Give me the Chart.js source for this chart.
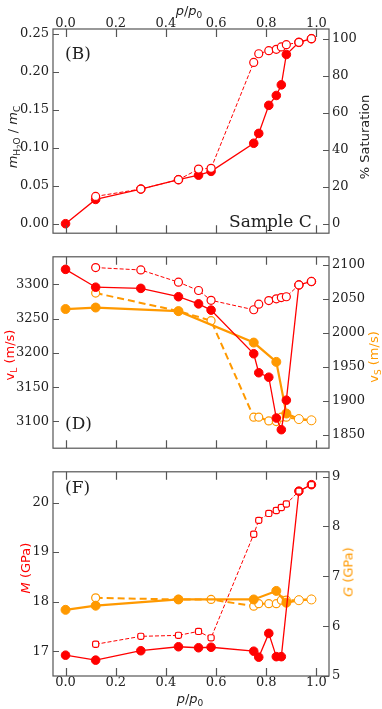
<!DOCTYPE html>
<html>
<head>
<meta charset="utf-8">
<script src="https://cdn.jsdelivr.net/npm/chart.js@4"></script>
<style>
  body { margin: 0; background: #fff; }
  #wrap { position: relative; width: 382px; height: 709px; overflow: hidden; }
  canvas { position: absolute; left: 0; }
  .lbl { position: absolute; white-space: nowrap; font-family: 'DejaVu Sans', sans-serif; font-size: 13px; line-height: 1; color: #222; transform: translate(-50%, -50%); }
  .rot { transform: translate(-50%, -50%) rotate(-90deg); }
  .serif { font-family: 'DejaVu Serif', serif; font-size: 17px; transform: translate(0, -50%); }
  sub { font-size: 9px; vertical-align: -3px; line-height: 0; }
  sub sub { font-size: 7px; vertical-align: -2px; }
</style>
</head>
<body>
<div id="wrap">
  <canvas id="topChart" width="382" height="245" style="top:0"></canvas>
  <canvas id="midChart" width="382" height="215" style="top:245px"></canvas>
  <canvas id="botChart" width="382" height="249" style="top:460px"></canvas>

  <div class="lbl" style="left:189px; top:10px"><i>p</i>/<i>p</i><sub>0</sub></div>
  <div class="lbl" style="left:190px; top:698px"><i>p</i>/<i>p</i><sub>0</sub></div>
  <div class="lbl rot" style="left:13px; top:137px"><i>m</i><sub>H<sub>2</sub>O</sub> / <i>m</i><sub>C</sub></div>
  <div class="lbl rot" style="left:364px; top:137px">% Saturation</div>
  <div class="lbl rot" style="left:9px; top:355px; color:#ff0000">v<sub>L</sub> (m/s)</div>
  <div class="lbl rot" style="left:373px; top:357px; color:#ff9900">v<sub>S</sub> (m/s)</div>
  <div class="lbl rot" style="left:25px; top:568px; color:#ff0000"><i>M</i> (GPa)</div>
  <div class="lbl rot" style="left:348px; top:572px; color:#ff9900"><i>G</i> (GPa)</div>

  <div class="lbl serif" style="left:65px; top:53px">(B)</div>
  <div class="lbl serif" style="left:65px; top:423px">(D)</div>
  <div class="lbl serif" style="left:65px; top:487px">(F)</div>
  <div class="lbl serif" style="left:229px; top:221px">Sample C</div>
</div>

<script>
// relative pressure points
const pAll = [0, 0.12, 0.30, 0.45, 0.53, 0.58, 0.75, 0.77, 0.81, 0.84, 0.86, 0.88, 0.93, 0.98];
const pDes = [0.12, 0.30, 0.45, 0.53, 0.58, 0.75, 0.77, 0.81, 0.84, 0.86, 0.88, 0.93, 0.98];
const pShearAds = [0, 0.12, 0.45, 0.75, 0.84, 0.88, 0.93, 0.98];
const pShearDes = [0.12, 0.45, 0.58, 0.75, 0.77, 0.81, 0.84, 0.86, 0.88, 0.93, 0.98];
const pModAds = [0, 0.12, 0.30, 0.45, 0.53, 0.58, 0.75, 0.77, 0.81, 0.84, 0.86, 0.93, 0.98];

// (B) mass ratio
const massAds = [0, 0.032, 0.0457, 0.058, 0.064, 0.069, 0.106, 0.119, 0.156, 0.169, 0.183, 0.223, 0.239, 0.2438];
const massDes = [0.036, 0.0457, 0.058, 0.072, 0.073, 0.2126, 0.224, 0.228, 0.2298, 0.233, 0.236, 0.239, 0.2438];

// (D) velocities
const vLAds = [3321.7, 3295.7, 3294, 3281.8, 3271.4, 3262.3, 3198.7, 3171, 3164.5, 3105, 3088, 3131, 3299, 3304];
const vLDes = [3324.3, 3320.8, 3303, 3290.9, 3276.6, 3262.8, 3271, 3276.2, 3278.8, 3280.5, 3281.8, 3299, 3304];
const vSAds = [2035, 2037.2, 2031.9, 1985.7, 1957.3, 1881.4, 1873.2, 1871.4];
const vSDes = [2058.5, 2032, 2017.9, 1876, 1876, 1870.5, 1869.6, 1876, 1876, 1873.2, 1871.4];

// (F) moduli
const mAds = [16.92, 16.82, 17.01, 17.09, 17.07, 17.08, 17.0, 16.88, 17.36, 16.89, 16.89, 20.23, 20.36];
const mDes = [17.14, 17.30, 17.32, 17.40, 17.27, 19.36, 19.64, 19.78, 19.84, 19.90, 19.97, 20.23, 20.36];
const gAds = [6.327, 6.41, 6.535, 6.535, 6.706, 6.47, 6.52, 6.535];
const gDes = [6.567, 6.535, 6.535, 6.40, 6.45, 6.45, 6.45, 6.52, 6.52, 6.52, 6.535];

const RED = '#ff0000';
const ORANGE = '#ff9900';
const tickFont = { family: "'DejaVu Serif', serif", size: 13 };

const pts = (xs, ys) => xs.map((x, i) => ({ x: x, y: ys[i] }));

function filled(color, xs, ys, width, yAxisID, r) {
  return {
    data: pts(xs, ys), yAxisID: yAxisID,
    borderColor: color, backgroundColor: color, borderWidth: width,
    pointRadius: r, pointBackgroundColor: color, pointBorderColor: color, pointBorderWidth: 1
  };
}
function open(color, xs, ys, width, dash, yAxisID, r, style) {
  return {
    data: pts(xs, ys), yAxisID: yAxisID,
    borderColor: color, backgroundColor: '#fff', borderWidth: width, borderDash: dash,
    pointRadius: r, pointStyle: style || 'circle',
    pointBackgroundColor: '#fff', pointBorderColor: color, pointBorderWidth: 1.2
  };
}

// frame plus inward tick marks on every side
const frameTicks = {
  id: 'frameTicks',
  afterDraw(chart) {
    const { ctx, chartArea: a, scales } = chart;
    ctx.save();
    ctx.strokeStyle = '#555';
    ctx.lineWidth = 1.2;
    ctx.strokeRect(a.left, a.top, a.right - a.left, a.bottom - a.top);
    ctx.beginPath();
    scales.x.ticks.forEach(t => {
      const px = Math.round(scales.x.getPixelForValue(t.value)) + 0.5;
      ctx.moveTo(px, a.top); ctx.lineTo(px, a.top + 8);
      ctx.moveTo(px, a.bottom); ctx.lineTo(px, a.bottom - 8);
    });
    scales.y.ticks.forEach(t => {
      const py = Math.round(scales.y.getPixelForValue(t.value)) + 0.5;
      ctx.moveTo(a.left, py); ctx.lineTo(a.left + 6, py);
    });
    scales.y2.ticks.forEach(t => {
      const py = Math.round(scales.y2.getPixelForValue(t.value)) + 0.5;
      ctx.moveTo(a.right, py); ctx.lineTo(a.right - 6, py);
    });
    ctx.stroke();
    ctx.restore();
  }
};

function yAxis(pos, min, max, step, digits) {
  return {
    type: 'linear', position: pos, min: min, max: max,
    ticks: {
      stepSize: step, includeBounds: false, autoSkip: false, padding: pos === 'left' ? 4 : 3,
      font: tickFont, color: '#222', callback: v => v.toFixed(digits)
    },
    grid: { display: false, drawTicks: false }, border: { display: false },
    afterFit: s => { s.width = 53; }
  };
}

function panel(id, datasets, xPos, xLabels, xHeight, xPad, left, right) {
  new Chart(document.getElementById(id), {
    type: 'line',
    data: { datasets: datasets },
    options: {
      responsive: false, animation: false,
      layout: { padding: 0 },
      plugins: { legend: { display: false }, tooltip: { enabled: false } },
      scales: {
        x: {
          type: 'linear', position: xPos, min: -0.05, max: 1.05,
          ticks: {
            display: xLabels, stepSize: 0.2, includeBounds: false, autoSkip: false, maxRotation: 0,
            padding: xPad, font: tickFont, color: '#222', callback: v => v.toFixed(1)
          },
          grid: { display: false, drawTicks: false }, border: { display: false },
          afterFit: s => { s.height = xHeight; }
        },
        y: left,
        y2: right
      }
    },
    plugins: [frameTicks]
  });
}

// (B)
panel('topChart', [
  open(RED, pDes, massDes, 1, [4, 2], 'y', 4),
  filled(RED, pAll, massAds, 1.3, 'y', 4.3)
], 'top', true, 29, -2,
  yAxis('left', -0.0125, 0.2566, 0.05, 2),
  yAxis('right', -5.1, 105.2, 20, 0));

// (D)
const vSAdsSet = filled(ORANGE, pShearAds, vSAds, 2.2, 'y2', 4.5);
vSAdsSet.pointBackgroundColor = pShearAds.map(p => p > 0.9 ? '#fff' : ORANGE);
panel('midChart', [
  open(RED, pDes, vLDes, 1, [4, 2], 'y', 4),
  filled(RED, pAll, vLAds, 1.3, 'y', 4.3),
  vSAdsSet,
  open(ORANGE, pShearDes, vSDes, 2, [7, 4], 'y2', 4)
], 'bottom', false, 0, 0,
  yAxis('left', 3061, 3340, 50, 0),
  yAxis('right', 1830.4, 2111.8, 50, 0));

// (F)
const gAdsSet = filled(ORANGE, pShearAds, gAds, 2.2, 'y2', 4.5);
gAdsSet.pointBackgroundColor = pShearAds.map(p => p > 0.9 ? '#fff' : ORANGE);
panel('botChart', [
  open(RED, pDes, mDes, 1, [4, 2], 'y', 3.6, 'rectRounded'),
  filled(RED, pModAds, mAds, 1.3, 'y', 4.3),
  gAdsSet,
  open(ORANGE, pShearDes, gDes, 2, [7, 4], 'y2', 4)
], 'bottom', true, 33, -1,
  yAxis('left', 16.5, 20.62, 1, 0),
  yAxis('right', 5, 9.095, 1, 0));
</script>
</body>
</html>
